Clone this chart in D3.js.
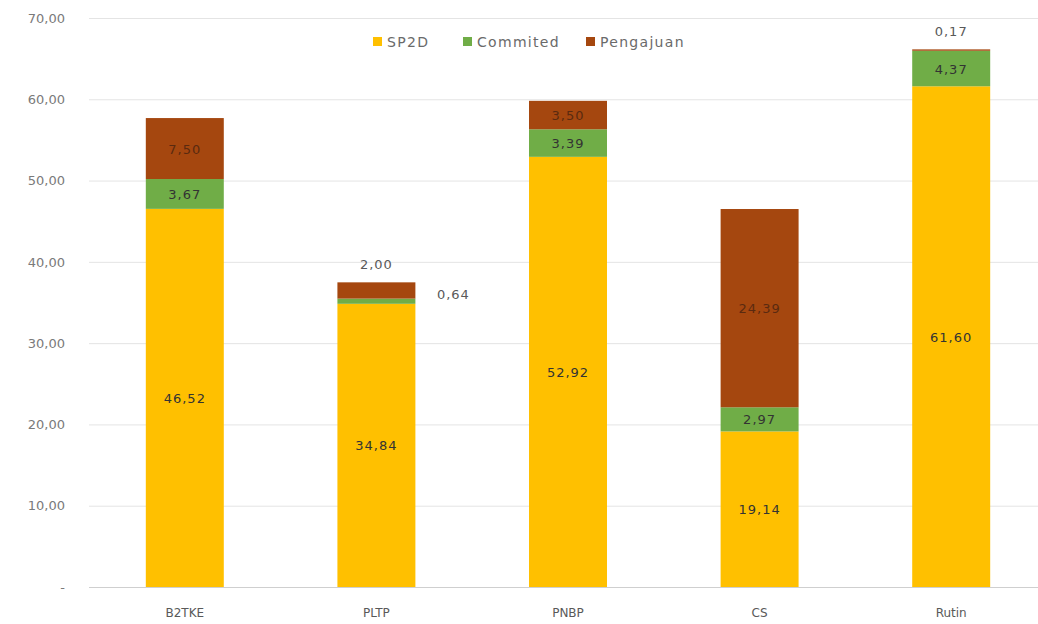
<!DOCTYPE html>
<html>
<head>
<meta charset="utf-8">
<script src="https://cdn.jsdelivr.net/npm/d3@7"></script>
<style>
  body { margin: 0; background: #fff; }
  svg text { font-family: "DejaVu Sans", "Liberation Sans", sans-serif; }
</style>
</head>
<body>
<div id="chart"></div>
<script>
// data
const categories = ["B2TKE", "PLTP", "PNBP", "CS", "Rutin"];
const sp2d = [46.52, 34.84, 52.92, 19.14, 61.60];
const commited = [3.67, 0.64, 3.39, 2.97, 4.37];
const pengajuan = [7.50, 2.00, 3.50, 24.39, 0.17];
const yTicks = [0, 10, 20, 30, 40, 50, 60, 70];
const seriesNames = ["SP2D", "Commited", "Pengajuan"];
const colors = ["#FFC000", "#70AD47", "#A5470F"];

const W = 1038, H = 624;
const svg = d3.select("#chart").append("svg")
    .attr("width", W)
    .attr("height", H);

// scales
const x = d3.scaleBand().domain(categories).range([89, 1047])
    .paddingInner(0.593).paddingOuter(0.2965);
const y = d3.scaleLinear().domain([0, 70]).range([587, 18]);

const fmt = v => v === 0 ? "-" : v.toFixed(2).replace(".", ",");

// gridlines
svg.append("g").selectAll("line")
    .data(yTicks)
    .enter().append("line")
    .attr("x1", 89).attr("x2", W)
    .attr("y1", d => y(d) + 0.5).attr("y2", d => y(d) + 0.5)
    .attr("stroke", d => d === 0 ? "#cfcfcf" : "#e4e4e4")
    .attr("stroke-width", 1);

// y axis labels
const yAxis = svg.append("g")
    .attr("transform", "translate(65,0)")
    .call(d3.axisLeft(y).tickValues(yTicks).tickFormat(fmt).tickSize(0).tickPadding(0));
yAxis.select(".domain").remove();
yAxis.selectAll("text")
    .attr("fill", "#7a7a7a")
    .style("font-size", "13px");

// stacked data
const table = categories.map((c, i) => ({
    cat: c, SP2D: sp2d[i], Commited: commited[i], Pengajuan: pengajuan[i]
}));
const stack = d3.stack().keys(seriesNames)(table);

const layers = svg.append("g").selectAll("g")
    .data(stack)
    .enter().append("g")
    .attr("fill", (d, i) => colors[i]);

layers.selectAll("rect")
    .data(d => d)
    .enter().append("rect")
    .attr("x", d => x(d.data.cat))
    .attr("width", x.bandwidth())
    .attr("y", d => y(d[1]))
    .attr("height", d => y(d[0]) - y(d[1]));

// value labels
const labels = svg.append("g")
    .style("font-size", "13px")
    .style("letter-spacing", "1px");
stack.forEach((layer, si) => {
    layer.forEach(d => {
        const v = d[1] - d[0];
        const cx = x(d.data.cat) + x.bandwidth() / 2;
        let lx = cx, ly = (y(d[0]) + y(d[1])) / 2 + 5;
        let fill = si === 2 ? "#5a2a10" : "#333";
        if (d.data.cat === "PLTP" && si === 1) {
            lx = x(d.data.cat) + x.bandwidth() + 38; ly = y(d[1]) + 0;
            fill = "#595959";
        } else if ((d.data.cat === "PLTP" && si === 2) || (d.data.cat === "Rutin" && si === 2)) {
            ly = y(d[1]) - 13; fill = "#595959";
        }
        labels.append("text")
            .attr("x", lx).attr("y", ly)
            .attr("text-anchor", "middle")
            .attr("fill", fill)
            .text(fmt(v));
    });
});

// x axis labels
svg.append("g").selectAll("text")
    .data(categories)
    .enter().append("text")
    .attr("x", d => x(d) + x.bandwidth() / 2)
    .attr("y", 617)
    .attr("text-anchor", "middle")
    .attr("fill", "#595959")
    .style("font-size", "12px")
    .text(d => d);

// legend
const legendX = [373, 463, 586];
const legend = svg.append("g").selectAll("g")
    .data(seriesNames)
    .enter().append("g")
    .attr("transform", (d, i) => `translate(${legendX[i]},37)`);
legend.append("rect")
    .attr("width", 9).attr("height", 9)
    .attr("fill", (d, i) => colors[i]);
legend.append("text")
    .attr("x", 14).attr("y", 10)
    .attr("fill", "#6a6a6a")
    .style("font-size", "14px")
    .style("letter-spacing", "1.3px")
    .text(d => d);
</script>
</body>
</html>
